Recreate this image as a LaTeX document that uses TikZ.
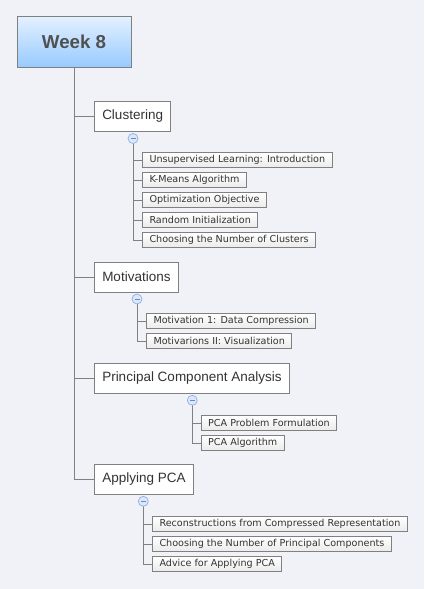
\documentclass[tikz,border=0pt]{standalone}
\usepackage{fontspec}
\setmainfont{Liberation Sans}
\newfontfamily\childfont{DejaVu Sans}
\definecolor{bg}{HTML}{F1F2F8}
\definecolor{lineg}{HTML}{808080}
\definecolor{txt}{HTML}{333333}
\definecolor{roottxt}{HTML}{505050}
\definecolor{roottop}{HTML}{E4F1FF}
\definecolor{rootbot}{HTML}{98CAFF}
\definecolor{ccfill}{HTML}{DCE8FA}
\definecolor{ccdraw}{HTML}{8EAEE6}
\tikzset{
  rootbox/.style={draw=lineg, line width=0.9pt, top color=roottop, bottom color=rootbot,
    minimum width=114pt, minimum height=51pt, inner sep=0pt,
    font=\fontsize{18.7}{20}\selectfont\bfseries, text=roottxt},
  topicbox/.style={draw=lineg, line width=0.9pt, fill=white, anchor=west,
    minimum height=30pt, inner xsep=7.5pt, inner ysep=0pt,
    font=\fontsize{13.5}{15}\selectfont, text=txt},
  childbox/.style={draw=lineg, line width=0.8pt, top color=white, bottom color=black!8, anchor=west,
    minimum height=15pt, inner xsep=6.8pt, inner ysep=0pt,
    font=\childfont\fontsize{9.6}{11}\selectfont, text=txt},
  collapse/.style={circle, draw=ccdraw, fill=ccfill, line width=0.7pt, minimum size=10pt, inner sep=0pt,
    path picture={\draw[ccdraw!80!black, line width=0.7pt] ([xshift=-2.5pt]path picture bounding box.center) -- ([xshift=2.5pt]path picture bounding box.center);}},
  conn/.style={draw=lineg, line width=0.9pt},
  cconn/.style={draw=lineg, line width=0.8pt}
}
\begin{document}
\begin{tikzpicture}[x=1pt,y=-1pt]
\fill[bg] (0,0) rectangle (424,589);
\useasboundingbox (0,0) rectangle (424,589);

\node[rootbox] (root) at (74,41.5) {Week 8};

\node[topicbox] (clus) at (94.3,116.3) {Clustering};
\node[topicbox] (motv) at (94.3,277) {Motivations};
\node[topicbox] (pca) at (94.3,378) {Principal Component Analysis};
\node[topicbox] (appl) at (94.3,479) {Applying PCA};

\draw[conn] (root.south) |- (appl.west);
\draw[conn] (root.south |- clus.west) -- (clus.west);
\draw[conn] (root.south |- motv.west) -- (motv.west);
\draw[conn] (root.south |- pca.west) -- (pca.west);

% Clustering children
\node[childbox] (c1) at (142.3,160) {Unsupervised Learning: Introduction};
\node[childbox] (c2) at (142.3,180) {K-Means Algorithm};
\node[childbox] (c3) at (142.3,200) {Optimization Objective};
\node[childbox] (c4) at (142.3,220) {Random Initialization};
\node[childbox] (c5) at (142.3,240) {Choosing the Number of Clusters};
\coordinate (k1) at (133,138.5);
\draw[cconn] (k1) |- (c5.west);
\foreach \c in {c1,c2,c3,c4} \draw[cconn] (k1 |- \c.west) -- (\c.west);
\node[collapse] (cc1) at (k1) {};

% Motivations children
\node[childbox] (m1) at (146.3,321) {Motivation 1: Data Compression};
\node[childbox] (m2) at (146.3,341) {Motivarions II: Visualization};
\coordinate (k2) at (137,299);
\draw[cconn] (k2) |- (m2.west);
\draw[cconn] (k2 |- m1.west) -- (m1.west);
\node[collapse] (cc2) at (k2) {};

% PCA children
\node[childbox] (p1) at (201,423) {PCA Problem Formulation};
\node[childbox] (p2) at (201,443) {PCA Algorithm};
\coordinate (k3) at (192.3,400.3);
\draw[cconn] (k3) |- (p2.west);
\draw[cconn] (k3 |- p1.west) -- (p1.west);
\node[collapse] (cc3) at (k3) {};

% Applying PCA children
\node[childbox] (a1) at (152.3,524) {Reconstructions from Compressed Representation};
\node[childbox] (a2) at (152.3,544) {Choosing the Number of Principal Components};
\node[childbox] (a3) at (152.3,564) {Advice for Applying PCA};
\coordinate (k4) at (143.3,501.3);
\draw[cconn] (k4) |- (a3.west);
\foreach \c in {a1,a2} \draw[cconn] (k4 |- \c.west) -- (\c.west);
\node[collapse] (cc4) at (k4) {};
\end{tikzpicture}
\end{document}
